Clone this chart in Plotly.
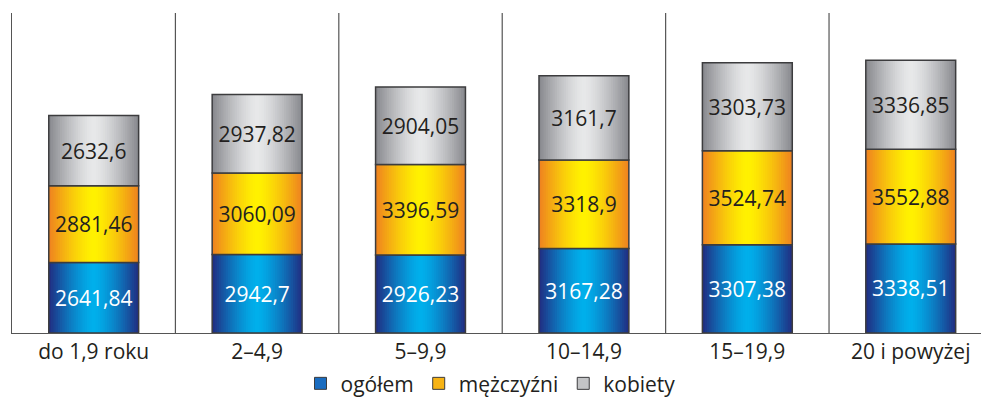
import plotly.graph_objects as go

# Average values by length of service (age groups in years)
categories = ["do 1,9 roku", "2–4,9", "5–9,9", "10–14,9", "15–19,9", "20 i powyżej"]
ogolem = [2641.84, 2942.7, 2926.23, 3167.28, 3307.38, 3338.51]
mezczyzni = [2881.46, 3060.09, 3396.59, 3318.9, 3524.74, 3552.88]
kobiety = [2632.6, 2937.82, 2904.05, 3161.7, 3303.73, 3336.85]
series_names = ["ogółem", "mężczyźni", "kobiety"]

series_values = [ogolem, mezczyzni, kobiety]
# (edge colour, centre colour) of the horizontal gradient for each series
gradients = [
    ((33, 43, 128), (0, 176, 236)),
    ((238, 128, 32), (255, 242, 0)),
    ((134, 135, 140), (232, 233, 234)),
]
legend_colors = ["#1a6cc0", "#f7b314", "#c3c4c6"]
label_colors = ["#ffffff", "#231f20", "#231f20"]

BAR_W = 0.55
N_SLICES = 40
FONT = "Open Sans"


def fmt(v):
    return str(v).replace(".", ",")


def mix(c0, c1, k):
    return "rgb({},{},{})".format(*[round(a + (b - a) * k) for a, b in zip(c0, c1)])


fig = go.Figure()

bases = [0.0] * len(categories)
for s, vals in enumerate(series_values):
    edge, centre = gradients[s]
    step = BAR_W / N_SLICES
    # gradient fill: thin overlapping bar slices, dark at the edges, light in the middle
    for i in range(N_SLICES):
        t = (i + 0.5) / N_SLICES
        k = 1 - abs(2 * t - 1) ** 1.4
        fig.add_trace(go.Bar(
            x=categories, y=vals, base=bases,
            width=min(step * 1.6, BAR_W - i * step),
            offset=-BAR_W / 2 + i * step,
            marker=dict(color=mix(edge, centre, k), line=dict(width=0)),
            showlegend=False, hoverinfo="skip",
        ))
    # outline and value label
    fig.add_trace(go.Bar(
        x=categories, y=vals, base=bases,
        width=BAR_W, offset=-BAR_W / 2,
        marker=dict(color="rgba(0,0,0,0)", line=dict(color="#3c3c3e", width=1.5)),
        text=[fmt(v) for v in vals], textposition="inside",
        insidetextanchor="middle", constraintext="none",
        textfont=dict(family=FONT, size=21, color=label_colors[s]),
        showlegend=False, hoverinfo="skip",
    ))
    bases = [b + v for b, v in zip(bases, vals)]

# legend entries
for s, name in enumerate(series_names):
    fig.add_trace(go.Bar(
        x=[None], y=[None], name=name,
        marker=dict(color=legend_colors[s], line=dict(color="#3c3c3e", width=1)),
    ))

shapes = [
    dict(type="line", xref="x", yref="paper", x0=i + 0.5, x1=i + 0.5, y0=0, y1=1,
         line=dict(color="#555555", width=1.2))
    for i in range(len(categories) - 1)
]

fig.update_layout(
    width=981, height=400,
    margin=dict(l=12, r=0, t=13, b=67),
    barmode="overlay",
    plot_bgcolor="white", paper_bgcolor="white",
    font=dict(family=FONT, color="#231f20"),
    shapes=shapes,
    xaxis=dict(range=[-0.5, 5.43], showline=True, linecolor="#555555", linewidth=1.2,
               ticks="", showgrid=False, automargin=False,
               tickfont=dict(size=21, color="#231f20")),
    yaxis=dict(range=[0, 12000], showline=True, linecolor="#555555", linewidth=1.2,
               showticklabels=False, ticks="", showgrid=False, zeroline=False,
               automargin=False),
    legend=dict(orientation="h", xref="container", yref="container",
                x=0.5, xanchor="center", y=0.092, yanchor="top",
                font=dict(size=21, color="#231f20"), itemwidth=30,
                traceorder="normal", bgcolor="rgba(0,0,0,0)",
                entrywidthmode="pixels"),
)

fig.write_html("out.html")
